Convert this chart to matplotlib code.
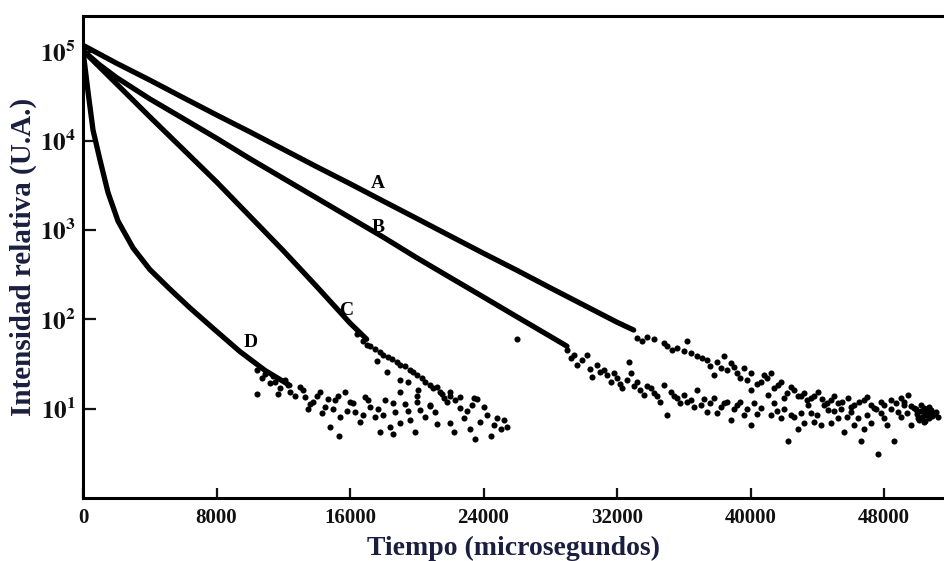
import numpy as np
import matplotlib
matplotlib.use("Agg")
import matplotlib.pyplot as plt

plt.rcParams['font.family'] = 'serif'
plt.rcParams['font.serif'] = ['Liberation Serif', 'DejaVu Serif']
plt.rcParams['mathtext.fontset'] = 'stix'

# ── data (time in microseconds, intensity in a.u.) ──

# dense (continuous-looking) parts of each decay
a_t = [0, 2000, 4000, 6000, 8000, 10000, 12000, 14000, 16000, 18000,
       20000, 22000, 24000, 26000, 28000, 30000, 32000, 33000]
a_i = [117500, 74100, 47900, 30500, 19500, 12600, 8040, 5130, 3310, 2110,
       1350, 861, 550, 355, 226, 145, 93, 76]

b_t = [0, 1000, 2000, 3000, 4000, 6000, 8000, 10000, 12000, 14000,
       16000, 18000, 20000, 22000, 24000, 26000, 28000, 29000]
b_i = [102300, 70800, 51300, 38900, 29500, 17800, 10700, 6310, 3800, 2290,
       1380, 832, 490, 295, 178, 107, 64.6, 50.1]

c_t = [0, 2000, 4000, 6000, 8000, 10000, 12000, 14000, 16000, 17000]
c_i = [102300, 43650, 18600, 8040, 3470, 1430, 589, 234, 91, 60]

d_t = [0, 300, 600, 1000, 1500, 2100, 3000, 4000, 5200, 6400,
       7800, 9400, 10900, 12400]
d_i = [102300, 35500, 13200, 6310, 2630, 1260, 631, 363, 219, 135,
       79.4, 43.7, 26.9, 18.2]

# scattered tails
a_tail_t = [33220, 33820, 34820, 35620, 36220, 36420, 36820, 37420, 37820, 38220,
            38420, 38820, 39220, 39620, 40020, 40620, 40820, 41220, 40020, 41620,
            42420, 42020, 42820, 43220, 43620, 44020, 44820, 45220, 45820, 46220,
            46820, 47220, 47820, 48420, 49020, 49420, 49820, 50420, 50820,
            33500, 34200, 35000, 35300, 36000, 37100, 37600, 38000, 38600, 39000,
            39400, 39800, 40400, 41000, 41400, 41800, 42200, 42600, 43000, 43400,
            43800, 44300, 44600, 45000, 45500, 46000, 46500, 47000, 47500, 48000,
            48700, 49200, 49600, 50000, 50200, 50600, 51000]
a_tail_i = [61.8, 64, 54, 47.6, 56.6, 41.9, 38.5, 35.2, 23.9, 28.4,
            38.5, 32.4, 25, 28.4, 25, 20.1, 23.9, 25, 16.2, 18.5,
            17.7, 13.1, 13.7, 14.9, 13.1, 15.5, 12.5, 11.5, 13.1, 11,
            12.5, 11, 12, 12.5, 13.1, 14.3, 10.1, 9.3, 8.5,
            58, 60, 50, 45, 44, 37, 30, 33, 27, 29,
            22, 21, 19, 22, 17, 20, 15, 16, 14, 12.5,
            14, 13, 11.5, 14, 12, 10.5, 12, 13.5, 10, 11,
            11.5, 12, 10.8, 9.5, 11, 10, 9]

b_tail_t = [26020, 29220, 29620, 30220, 30520, 30820, 31220, 31620, 32020, 32320,
            32820, 32720, 33220, 33620, 34020, 34420, 34820, 35020, 35220, 35620,
            36020, 36420, 36820, 37020, 37420, 37820, 38220, 38620, 38820, 39220,
            39620, 40020, 40220, 40620, 41020, 41220, 41820, 42220, 42420, 42820,
            43420, 43820, 44220, 44620, 45220, 45620, 46020, 46420, 46620, 46820,
            47420, 47620, 48020, 48620, 48820, 49220, 50020, 50420, 50820, 51220,
            29000, 29400, 29900, 30400, 31000, 31400, 31800, 32200, 32600, 33000,
            33400, 33800, 34200, 34600, 35400, 35800, 36200, 36600, 37200, 37600,
            38000, 38400, 39000, 39400, 39800, 40400, 41400, 41600, 42000, 42600,
            43000, 43200, 43600, 44000, 44400, 44800, 45000, 45400, 45800, 46200,
            47000, 47200, 47800, 48200, 48400, 49000, 49400, 49600]
b_tail_i = [60, 36.8, 31, 40.1, 22.9, 31, 27.2, 20.1, 21.9, 16.9,
            25, 33.7, 20.1, 14.3, 16.9, 13.7, 18.5, 8.5, 15.5, 13.1,
            14.3, 12.5, 16.2, 11, 9.3, 13.1, 10.5, 12, 7.5, 11,
            8.5, 6.6, 11.5, 10.1, 14.3, 8.5, 7.8, 4.4, 8.5, 6.0,
            11, 7.1, 6.6, 9.7, 7.8, 5.5, 9.3, 7.8, 4.4, 6.0,
            10.1, 3.15, 7.8, 4.4, 9.3, 11, 7.8, 7.1, 8.5, 8.1,
            45, 40, 35, 28, 26, 24, 25, 19, 21, 18,
            16, 18, 15, 12, 14, 11.5, 12, 10.5, 13, 11.5,
            9, 11.5, 9.8, 12, 10, 8.8, 11.5, 9.5, 10, 8,
            9, 7, 9, 8.5, 11, 7, 9.5, 10, 8, 6.5,
            8.5, 7, 9, 6.5, 10, 8, 9, 6.5]

# dense blob where A and B end
end_t = [49900, 50000, 50100, 50200, 50300, 50400, 50450, 50500, 50600, 50700,
         50700, 50800, 50900, 51000, 51100]
end_i = [9.9, 8.8, 7.4, 9.4, 8.1, 10.2, 7.2, 8.6, 9.0, 7.8,
         10.5, 9.6, 8.3, 8.8, 9.2]

c_tail_t = [16800, 17200, 17820, 18300, 18840, 19300, 19800, 20300,
            20820, 21420, 22000, 23640, 20820, 21120, 21220, 21620, 22020, 22020,
            22220, 22620, 22820, 23220, 23420, 23520, 23820, 24220, 24420, 24820,
            25020, 25420, 19500, 20100,
            16400, 17000, 17500, 18000, 18500, 19000, 19600, 20000, 20500, 21000,
            21500, 21800, 22300, 22600, 23000, 23300, 24000, 24600, 25200, 20000,
            19000, 18200, 17600]
c_tail_i = [56.6, 50, 43.6, 38, 33.7, 30, 26, 22,
            18.6, 15.5, 14, 13, 11, 9.3, 17.7, 13.1, 15.5, 6.9,
            5.5, 10.1, 7.8, 6.0, 13.1, 4.6, 7.1, 8.5, 4.9, 7.8,
            6.0, 6.3, 20, 16,
            68, 52, 47, 40, 36, 31, 27, 24, 20, 17,
            14.5, 12, 12.5, 13.5, 9.5, 11, 10.5, 6.5, 7.5, 14,
            21, 26, 34]

d_tail_t = [10920, 11520, 12120, 12420, 13020, 13320, 13620, 14220, 14520, 15120,
            15420, 16020, 16320, 16620, 17220, 17520, 18120, 18420, 18720, 19320,
            19620, 19920, 20220, 11700, 14820, 15720, 16920, 17820, 19020, 13800,
            10400, 10700, 11200, 11400, 11800, 12300, 12700, 13200, 13500, 14000,
            14300, 14700, 15000, 15300, 15800, 16200, 16800, 17100, 17700, 18000,
            18600, 19000, 19500, 20000, 20500, 20800, 21200, 10440, 15360, 18600]
d_tail_i = [24.7, 20.1, 21.2, 15.5, 17.7, 13.6, 11.4, 15.5, 10.5, 12.6,
            8.1, 12, 9.3, 7.1, 10.5, 8.1, 12.6, 6.3, 9.3, 11.4,
            7.5, 5.5, 9.7, 14.8, 6.3, 15.5, 13.6, 5.5, 15.5, 12,
            27, 22, 19.5, 23, 17, 18.5, 14, 16, 10, 14,
            9, 12.8, 10, 14, 9.5, 11.5, 8.5, 12.5, 10, 8.5,
            11.5, 7, 9.5, 12, 8, 10.8, 6.8, 14.8, 5.0, 5.2]

labels = ['A', 'B', 'C', 'D']
label_t = [17700, 17700, 15840, 10020]
label_i = [3300, 1080, 126, 55]

x_ticks = [0, 8000, 16000, 24000, 32000, 40000, 48000]
y_ticks = [1e1, 1e2, 1e3, 1e4, 1e5]
y_tick_labels = [r'$\mathbf{10^{1}}$', r'$\mathbf{10^{2}}$', r'$\mathbf{10^{3}}$',
                 r'$\mathbf{10^{4}}$', r'$\mathbf{10^{5}}$']

# ── figure ──
fig = plt.figure(figsize=(9.45, 5.61), dpi=100)
ax = fig.add_axes([83 / 945, 63 / 561, 862 / 945, 482 / 561])
ax.set_yscale('log')

for t, i in [(a_t, a_i), (b_t, b_i), (c_t, c_i), (d_t, d_i)]:
    ax.plot(t, i, color='black', lw=3.8, solid_capstyle='round',
            solid_joinstyle='round')

for t, i in [(a_tail_t, a_tail_i), (b_tail_t, b_tail_i), (end_t, end_i),
             (c_tail_t, c_tail_i), (d_tail_t, d_tail_i)]:
    ax.plot(t, i, 'o', color='black', ms=4.4, mew=0)

for lab, t, i in zip(labels, label_t, label_i):
    ax.text(t, i, lab, fontsize=14, fontweight='bold', ha='center', va='center')

ax.set_xlim(0, 51655)
ax.set_ylim(1.0, 2.5e5)
ax.set_xticks(x_ticks)
ax.set_xticklabels([str(v) for v in x_ticks])
ax.set_yticks(y_ticks)
ax.set_yticklabels(y_tick_labels)
ax.yaxis.set_minor_locator(matplotlib.ticker.NullLocator())

for lbl in ax.get_xticklabels():
    lbl.set_fontweight('bold')
ax.tick_params(axis='x', direction='in', length=7, width=1.6, labelsize=15,
               pad=7, colors='#111111')
ax.tick_params(axis='y', direction='in', length=9, width=1.6, labelsize=18,
               pad=5, colors='#111111')

ax.spines['right'].set_visible(False)
for s in ['left', 'top', 'bottom']:
    ax.spines[s].set_linewidth(2.2)

ax.set_xlabel('Tiempo (microsegundos)', fontsize=20, fontweight='bold',
              color='#1b1f3f', labelpad=6)
ax.set_ylabel('Intensidad relativa (U.A.)', fontsize=21, fontweight='bold',
              color='#1b1f3f', labelpad=2)

fig.savefig('out.png', dpi=100)
